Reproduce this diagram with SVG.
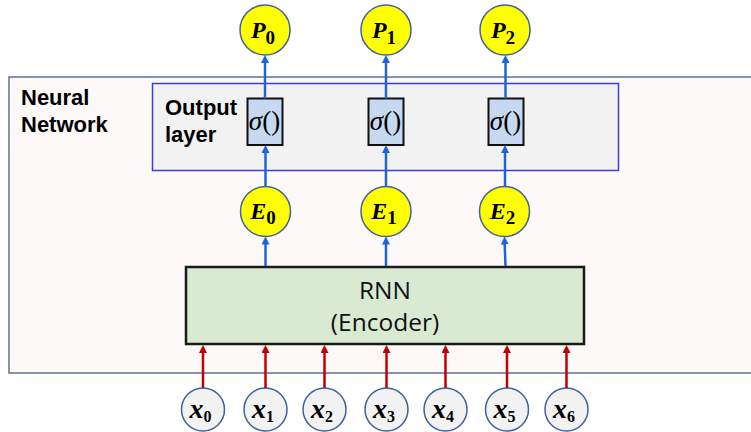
<svg xmlns="http://www.w3.org/2000/svg" width="751" height="432" viewBox="0 0 751 432">
  <style>
    .frame { fill: #fdf9f8; stroke: #5b7199; stroke-width: 1.5; }
    .outlayer { fill: #f2f2f2; stroke: #3c3cdc; stroke-width: 1.5; }
    .sig { fill: #c6d9f1; stroke: #111; stroke-width: 2; }
    .rnn { fill: #d9ead3; stroke: #1a1a1a; stroke-width: 2.5; }
    .yel { fill: #ffff00; stroke: #41619a; stroke-width: 1.5; }
    .inp { fill: #f2f2f2; stroke: #41619a; stroke-width: 1.5; }
    .blue { stroke: #1e64d8; stroke-width: 2.5; fill: none; }
    .red { stroke: #c00000; stroke-width: 2.5; fill: none; }
    .lbl { font-family: "Liberation Sans", Arial, sans-serif; font-weight: bold; font-size: 22px; fill: #000; }
    .math { font-family: "Liberation Serif", "Times New Roman", serif; fill: #000; }
    .mv { font-weight: bold; font-style: italic; }
    .sub { font-weight: bold; font-style: normal; }
    .enc { font-family: "Open Sans", "Liberation Sans", sans-serif; font-size: 24.5px; fill: #111; text-anchor: middle; }
  </style>
  <defs>
    <marker id="ahBlue" markerUnits="userSpaceOnUse" markerWidth="9" markerHeight="9" refX="3" refY="4" orient="auto">
      <path d="M0,0 L8,4 L0,8 z" fill="#1e64d8"/>
    </marker>
    <marker id="ahRed" markerUnits="userSpaceOnUse" markerWidth="9" markerHeight="9" refX="3" refY="4" orient="auto">
      <path d="M0,0 L8,4 L0,8 z" fill="#c00000"/>
    </marker>
  </defs>

  <!-- network frame (runs off the right edge) -->
  <g id="neural-network">
    <rect class="frame" x="9" y="77" width="760" height="296"/>
    <text class="lbl" x="21" y="105">Neural</text>
    <text class="lbl" x="21" y="132">Network</text>
  </g>

  <g id="output-layer">
    <rect class="outlayer" x="152.5" y="83.5" width="466" height="87"/>
    <text class="lbl" x="165" y="115">Output</text>
    <text class="lbl" x="165" y="142">layer</text>
  </g>

  <!-- sigmoid units -->
  <g id="sigma0">
    <rect class="sig" x="247.5" y="98.5" width="35" height="46.5"/>
    <text class="math" x="264.5" y="130" font-size="27" text-anchor="middle"><tspan font-style="italic">σ</tspan>()</text>
  </g>
  <g id="sigma1">
    <rect class="sig" x="368.5" y="98.5" width="35" height="46.5"/>
    <text class="math" x="385.5" y="130" font-size="27" text-anchor="middle"><tspan font-style="italic">σ</tspan>()</text>
  </g>
  <g id="sigma2">
    <rect class="sig" x="488.5" y="98.5" width="35" height="46.5"/>
    <text class="math" x="505.5" y="130" font-size="27" text-anchor="middle"><tspan font-style="italic">σ</tspan>()</text>
  </g>

  <!-- outputs -->
  <g id="P0">
    <circle class="yel" cx="265" cy="30" r="25"/>
    <text class="math" x="263" y="38" text-anchor="middle"><tspan class="mv" font-size="24">P</tspan><tspan class="sub" font-size="19" dy="5.5">0</tspan></text>
  </g>
  <g id="P1">
    <circle class="yel" cx="386" cy="30" r="25"/>
    <text class="math" x="384" y="38" text-anchor="middle"><tspan class="mv" font-size="24">P</tspan><tspan class="sub" font-size="19" dy="5.5">1</tspan></text>
  </g>
  <g id="P2">
    <circle class="yel" cx="505" cy="30" r="25"/>
    <text class="math" x="503" y="38" text-anchor="middle"><tspan class="mv" font-size="24">P</tspan><tspan class="sub" font-size="19" dy="5.5">2</tspan></text>
  </g>

  <!-- encodings -->
  <g id="E0">
    <circle class="yel" cx="265.5" cy="211.5" r="25"/>
    <text class="math" x="263" y="219" text-anchor="middle"><tspan class="mv" font-size="24">E</tspan><tspan class="sub" font-size="19" dy="5">0</tspan></text>
  </g>
  <g id="E1">
    <circle class="yel" cx="386" cy="211.5" r="25"/>
    <text class="math" x="384" y="219" text-anchor="middle"><tspan class="mv" font-size="24">E</tspan><tspan class="sub" font-size="19" dy="5">1</tspan></text>
  </g>
  <g id="E2">
    <circle class="yel" cx="504.5" cy="211.5" r="25"/>
    <text class="math" x="502.5" y="219" text-anchor="middle"><tspan class="mv" font-size="24">E</tspan><tspan class="sub" font-size="19" dy="5">2</tspan></text>
  </g>

  <g id="rnn-encoder">
    <rect class="rnn" x="186" y="267" width="398" height="77"/>
    <text class="enc" x="385" y="299">RNN</text>
    <text class="enc" x="385" y="330.5">(Encoder)</text>
  </g>

  <!-- inputs -->
  <g id="x0"><circle class="inp" cx="203" cy="409.5" r="21.5"/>
    <text class="math" x="200.5" y="418" text-anchor="middle"><tspan class="mv" font-size="28">x</tspan><tspan class="sub" font-size="16" dy="3.5">0</tspan></text></g>
  <g id="x1"><circle class="inp" cx="265.5" cy="409.5" r="21.5"/>
    <text class="math" x="263" y="418" text-anchor="middle"><tspan class="mv" font-size="28">x</tspan><tspan class="sub" font-size="16" dy="3.5">1</tspan></text></g>
  <g id="x2"><circle class="inp" cx="324.5" cy="409.5" r="21.5"/>
    <text class="math" x="322" y="418" text-anchor="middle"><tspan class="mv" font-size="28">x</tspan><tspan class="sub" font-size="16" dy="3.5">2</tspan></text></g>
  <g id="x3"><circle class="inp" cx="386.5" cy="409.5" r="21.5"/>
    <text class="math" x="384" y="418" text-anchor="middle"><tspan class="mv" font-size="28">x</tspan><tspan class="sub" font-size="16" dy="3.5">3</tspan></text></g>
  <g id="x4"><circle class="inp" cx="445.5" cy="409.5" r="21.5"/>
    <text class="math" x="443" y="418" text-anchor="middle"><tspan class="mv" font-size="28">x</tspan><tspan class="sub" font-size="16" dy="3.5">4</tspan></text></g>
  <g id="x5"><circle class="inp" cx="507" cy="409.5" r="21.5"/>
    <text class="math" x="504.5" y="418" text-anchor="middle"><tspan class="mv" font-size="28">x</tspan><tspan class="sub" font-size="16" dy="3.5">5</tspan></text></g>
  <g id="x6"><circle class="inp" cx="566.5" cy="409.5" r="21.5"/>
    <text class="math" x="564" y="418" text-anchor="middle"><tspan class="mv" font-size="28">x</tspan><tspan class="sub" font-size="16" dy="3.5">6</tspan></text></g>

  <!-- connectors -->
  <g id="connectors">
    <line class="blue" x1="265" y1="98.5" x2="265" y2="60" marker-end="url(#ahBlue)"/>
    <line class="blue" x1="386" y1="98.5" x2="386" y2="60" marker-end="url(#ahBlue)"/>
    <line class="blue" x1="505.5" y1="98.5" x2="505.5" y2="60" marker-end="url(#ahBlue)"/>

    <line class="blue" x1="265.5" y1="186.5" x2="265.5" y2="150" marker-end="url(#ahBlue)"/>
    <line class="blue" x1="386" y1="186.5" x2="386" y2="150" marker-end="url(#ahBlue)"/>
    <line class="blue" x1="505" y1="186.5" x2="505" y2="150" marker-end="url(#ahBlue)"/>

    <line class="blue" x1="265.5" y1="266" x2="265.5" y2="241.5" marker-end="url(#ahBlue)"/>
    <line class="blue" x1="386" y1="266" x2="386" y2="241.5" marker-end="url(#ahBlue)"/>
    <line class="blue" x1="505.5" y1="266" x2="504.6" y2="241.5" marker-end="url(#ahBlue)"/>

    <line class="red" x1="203" y1="388" x2="203" y2="350" marker-end="url(#ahRed)"/>
    <line class="red" x1="265.5" y1="388" x2="265.5" y2="350" marker-end="url(#ahRed)"/>
    <line class="red" x1="324.5" y1="388" x2="324.5" y2="350" marker-end="url(#ahRed)"/>
    <line class="red" x1="386.5" y1="388" x2="386.5" y2="350" marker-end="url(#ahRed)"/>
    <line class="red" x1="445.5" y1="388" x2="445.5" y2="350" marker-end="url(#ahRed)"/>
    <line class="red" x1="507" y1="388" x2="507" y2="350" marker-end="url(#ahRed)"/>
    <line class="red" x1="566.5" y1="388" x2="566.5" y2="350" marker-end="url(#ahRed)"/>
  </g>
</svg>
